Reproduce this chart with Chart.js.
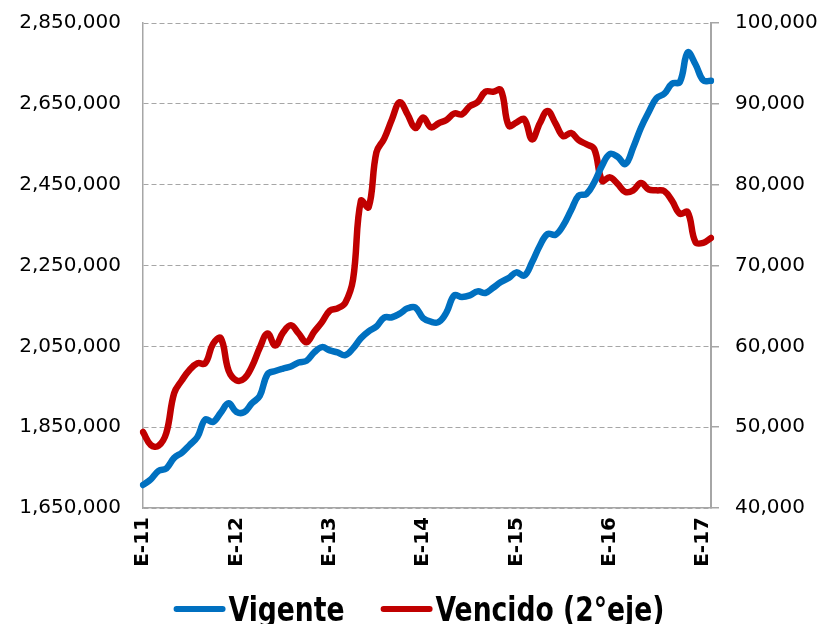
<!DOCTYPE html>
<html>
<head>
<meta charset="utf-8">
<script src="https://cdn.jsdelivr.net/npm/chart.js@4/dist/chart.umd.min.js"></script>
<style>
  html, body { margin: 0; padding: 0; background: #ffffff; }
  #wrap { width: 823px; height: 624px; position: relative; }
</style>
</head>
<body>
<div id="wrap"><canvas id="c" width="823" height="624"></canvas></div>
<script>
// Category building blocks (Spanish month initials, years)
const monthInitials = ['E','F','M','A','M','J','J','A','S','O','N','D'];
const years = ['11','12','13','14','15','16','17'];
const categoryCount = 74; // Jan 2011 .. Feb 2017

// Series values
const vigente = [
  1707000, 1721000, 1742000, 1748000, 1774000, 1787000, 1806000, 1826000, 1869000, 1863000,
  1886000, 1909000, 1888000, 1887000, 1909000, 1927000, 1981000, 1989000, 1995000, 2000000,
  2010000, 2014000, 2035000, 2048000, 2040000, 2035000, 2028000, 2045000, 2070000, 2087000,
  2099000, 2121000, 2122000, 2131000, 2144000, 2146000, 2120000, 2111000, 2110000, 2134000,
  2176000, 2172000, 2176000, 2186000, 2182000, 2195000, 2209000, 2219000, 2233000, 2225000,
  2258000, 2299000, 2328000, 2326000, 2349000, 2386000, 2423000, 2427000, 2456000, 2497000,
  2526000, 2519000, 2501000, 2542000, 2591000, 2630000, 2664000, 2675000, 2700000, 2704000,
  2777000, 2748000, 2708000, 2707000
];
const vencido = [
  49400, 47800, 47700, 49300, 54200, 55800, 57100, 57900, 57900, 60300,
  61000, 57000, 55800, 56000, 57500, 59800, 61600, 60100, 61700, 62600,
  61600, 60500, 61800, 63000, 64400, 64700, 65400, 68300, 78000, 77200,
  84000, 85700, 88100, 90200, 88700, 87000, 88300, 87100, 87600, 88000,
  88800, 88700, 89700, 90200, 91500, 91500, 91700, 87300, 87700, 88100,
  85600, 87600, 89100, 87600, 86000, 86400, 85500, 85000, 84400, 80500,
  80900, 80100, 79100, 79300, 80200, 79400, 79300, 79200, 78000, 76400,
  76600, 72900, 72800, 73400
];
const seriesNames = ['Vigente', 'Vencido (2°eje)'];

// Axis tick settings
const leftTicks = { min: 1650000, max: 2850000, step: 200000 };
const rightTicks = { min: 40000, max: 100000, step: 10000 };

const labels = [];
for (let y = 0; y < years.length; y++) {
  for (let m = 0; m < 12; m++) {
    if (labels.length < categoryCount) labels.push(monthInitials[m] + '-' + years[y]);
  }
}

const fmt = v => Number(v).toLocaleString('en-US');
const GRID = '#A6A6A6';
const TICKFONT = { family: "'DejaVu Sans', sans-serif", size: 20 };
const LEGEND_FONT = "bold 34px 'DejaVu Sans Condensed', 'DejaVu Sans', sans-serif";
const LEGEND_SQUEEZE = 0.87;

// Custom legend: line sample directly followed by text, centred under the chart
const legendPlugin = {
  id: 'customLegend',
  afterDraw(chart) {
    const ctx = chart.ctx;
    const lineLen = 52, gapText = 3, gapItem = 36, lineY = 609, baseY = 621;
    ctx.save();
    ctx.font = LEGEND_FONT;
    const items = chart.data.datasets.map(ds => ({ ds, w: ctx.measureText(ds.label).width * LEGEND_SQUEEZE }));
    const total = items.reduce((a, it) => a + lineLen + gapText + it.w, 0) + gapItem * (items.length - 1);
    let x = 419 - total / 2;
    items.forEach(it => {
      ctx.strokeStyle = it.ds.borderColor;
      ctx.lineWidth = 6;
      ctx.lineCap = 'round';
      ctx.beginPath();
      ctx.moveTo(x + 3, lineY);
      ctx.lineTo(x + lineLen - 3, lineY);
      ctx.stroke();
      x += lineLen + gapText;
      ctx.save();
      ctx.translate(x, baseY);
      ctx.scale(LEGEND_SQUEEZE, 1);
      ctx.fillStyle = '#000';
      ctx.textBaseline = 'alphabetic';
      ctx.textAlign = 'left';
      ctx.fillText(it.ds.label, 0, 0);
      ctx.restore();
      x += it.w + gapItem;
    });
    ctx.restore();
  }
};

new Chart(document.getElementById('c'), {
  type: 'line',
  data: {
    labels: labels,
    datasets: [
      {
        label: seriesNames[0], data: vigente, yAxisID: 'y',
        borderColor: '#0070C0', backgroundColor: '#0070C0',
        borderWidth: 6.5, pointRadius: 0, tension: 0.4,
        borderCapStyle: 'round', borderJoinStyle: 'round', fill: false
      },
      {
        label: seriesNames[1], data: vencido, yAxisID: 'y1',
        borderColor: '#C00000', backgroundColor: '#C00000',
        borderWidth: 6.5, pointRadius: 0, tension: 0.4,
        borderCapStyle: 'round', borderJoinStyle: 'round', fill: false
      }
    ]
  },
  options: {
    responsive: false,
    animation: false,
    devicePixelRatio: 1,
    layout: { padding: { top: 23, left: 0, right: 0, bottom: 0 } },
    plugins: {
      tooltip: { enabled: false },
      legend: { display: false }
    },
    scales: {
      x: {
        offset: false,
        grid: { display: false, drawTicks: false },
        border: { display: true, color: GRID, width: 1.5 },
        ticks: {
          autoSkip: false, maxRotation: 90, minRotation: 90, padding: 9,
          color: '#000',
          font: { family: "'DejaVu Sans', sans-serif", size: 20, weight: 'bold' },
          callback: function(v, i) { const l = labels[i]; return l.startsWith('E-') ? l : ''; }
        },
        afterFit: s => { s.height = 116; s.paddingLeft = 0; s.paddingRight = 0; }
      },
      y: {
        position: 'left',
        min: leftTicks.min, max: leftTicks.max,
        grid: { color: GRID, lineWidth: 1, drawTicks: false },
        border: { display: true, color: GRID, width: 1.5, dash: [5, 3] },
        ticks: { stepSize: leftTicks.step, padding: 22, color: '#000', font: TICKFONT, callback: v => fmt(v) },
        afterFit: s => { s.width = 143; s.paddingTop = 0; s.paddingBottom = 0; }
      },
      y1: {
        position: 'right',
        min: rightTicks.min, max: rightTicks.max,
        grid: { drawOnChartArea: false, drawTicks: true, tickLength: 8, color: GRID, lineWidth: 1.5 },
        border: { display: true, color: GRID, width: 2 },
        ticks: { stepSize: rightTicks.step, padding: 16, color: '#000', font: TICKFONT, callback: v => fmt(v) },
        afterFit: s => { s.width = 112; s.paddingTop = 0; s.paddingBottom = 0; }
      }
    }
  },
  plugins: [legendPlugin]
});
</script>
</body>
</html>
